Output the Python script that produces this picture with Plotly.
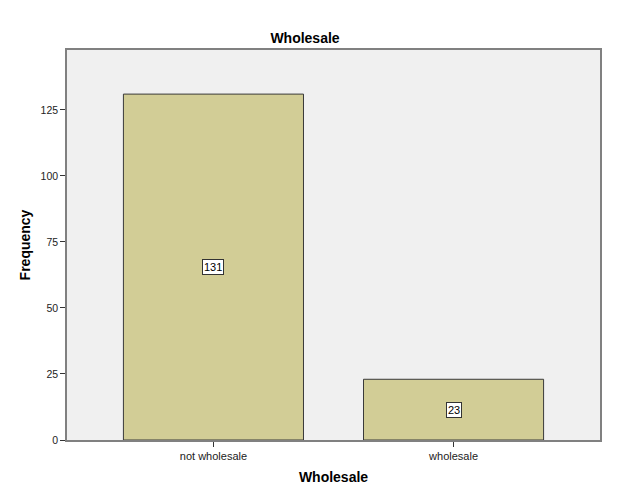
import plotly.graph_objects as go

# Data
categories = ["not wholesale", "wholesale"]
frequencies = [131, 23]
y_ticks = [0, 25, 50, 75, 100, 125]

# the page puts the figure 8px in from the top-left corner, so pull it back
OFF = 8

fig = go.Figure()

fig.add_trace(go.Bar(
    x=categories,
    y=frequencies,
    width=0.75,
    marker=dict(color="#d2cd96", line=dict(color="#3a3a3a", width=1)),
    hoverinfo="x+y",
))

# boxed value labels in the middle of each bar
for cat, val in zip(categories, frequencies):
    fig.add_annotation(
        x=cat, y=val / 2, text=str(val), showarrow=False,
        font=dict(family="Liberation Sans, Arial", size=11, color="black"),
        bgcolor="white", bordercolor="#333333", borderwidth=1, borderpad=1,
    )

fig.update_layout(
    width=630, height=495,
    margin=dict(l=67 - OFF, r=30 + OFF, t=50 - OFF, b=55 + OFF),
    paper_bgcolor="white",
    plot_bgcolor="#f0f0f0",
    showlegend=False,
    font=dict(family="Liberation Sans, Arial", size=10, color="#222222"),
    title=dict(text="<b>Wholesale</b>", x=(305 - OFF) / 630, xanchor="center",
               y=1 - (38 - OFF) / 495, yanchor="middle",
               font=dict(size=14, color="black")),
)

fig.update_xaxes(
    range=[-0.61, 1.61],
    showgrid=False, zeroline=False,
    showline=True, linecolor="#808080", linewidth=1.5, mirror=True,
    ticks="outside", ticklen=5, tickcolor="#333333",
    tickfont=dict(size=11, color="#222222"),
    title=dict(text="<b>Wholesale</b>", font=dict(size=14, color="black"), standoff=11),
)

fig.update_yaxes(
    range=[0, 147.7],
    tickvals=y_ticks,
    showgrid=False, zeroline=False,
    showline=True, linecolor="#808080", linewidth=1.5, mirror=True,
    ticks="outside", ticklen=5, tickcolor="#333333",
    tickfont=dict(size=10.5, color="#222222"),
    title=dict(text="<b>Frequency</b>", font=dict(size=14, color="black"), standoff=7),
)

fig.write_html("out.html")
